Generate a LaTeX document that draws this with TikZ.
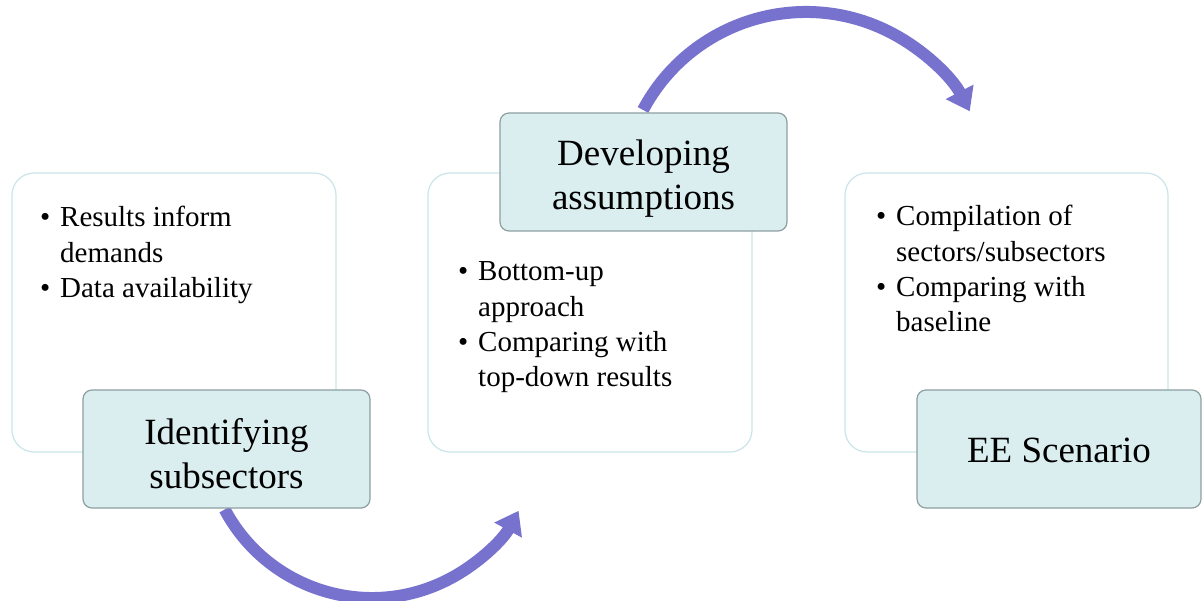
\documentclass[tikz,border=0pt]{standalone}
\usepackage{fontspec}
\setmainfont{Liberation Serif}
\usetikzlibrary{arrows.meta,calc}
\definecolor{arrowc}{HTML}{7672CE}
\definecolor{labfill}{HTML}{DAEEF0}
\definecolor{labdraw}{HTML}{8E9FA1}
\definecolor{boxdraw}{HTML}{C9E5E8}
\tikzset{
  panel/.style={draw=boxdraw, line width=1.2pt, fill=white, rounded corners=22pt},
  label/.style={draw=labdraw, line width=1.2pt, fill=labfill, rounded corners=9pt},
  labtext/.style={align=center, font=\fontsize{37}{44}\selectfont, inner sep=0pt},
  bultext/.style={anchor=base west, inner sep=0pt, font=\fontsize{29}{35.3}\selectfont},
  flow/.style={draw=arrowc, line width=12pt, -{Triangle[width=30pt,length=22pt]}}
}
\newcommand{\bul}{\makebox[20pt][l]{\textbullet}}
\newcommand{\ind}{\hspace*{20pt}}
\begin{document}
\begin{tikzpicture}[x=1pt,y=1pt]
\useasboundingbox (0,0) rectangle (1202,600);
% arrows (behind)
\coordinate (a1s) at ($(372,168.8)+(208:166.8)$);
\coordinate (a2s) at ($(806,403.4)+(152:184.6)$);
\draw[flow] (a1s) arc[start angle=208, end angle=331.5, radius=166.8];
\draw[flow] (a2s) arc[start angle=152, end angle=27.5, radius=184.6];
% panels
\path[panel] (12,148) rectangle (336,427);
\path[panel] (428,148) rectangle (752,427);
\path[panel] (845,148) rectangle (1168,427);
% labels
\path[label] (83,92) rectangle (370,210);
\path[label] (500,369) rectangle (787,487);
\path[label] (917,92) rectangle (1201,210);
\node[labtext] (l1) at (226.5,146) {Identifying\\subsectors};
\node[labtext] (l2) at (643.5,421) {Developing\\assumptions};
\node[labtext] (l3) at (1059,150) {EE Scenario};
% bullets
\node[bultext] (b1) at (40,373) {\parbox[t]{290pt}{\bul Results inform\\\ind demands\\\bul Data availability}};
\node[bultext] (b2) at (458,319) {\parbox[t]{290pt}{\bul Bottom-up\\\ind approach\\\bul Comparing with\\\ind top-down results}};
\node[bultext] (b3) at (876,374) {\parbox[t]{290pt}{\bul Compilation of\\\ind sectors/subsectors\\\bul Comparing with\\\ind baseline}};
\end{tikzpicture}
\end{document}
